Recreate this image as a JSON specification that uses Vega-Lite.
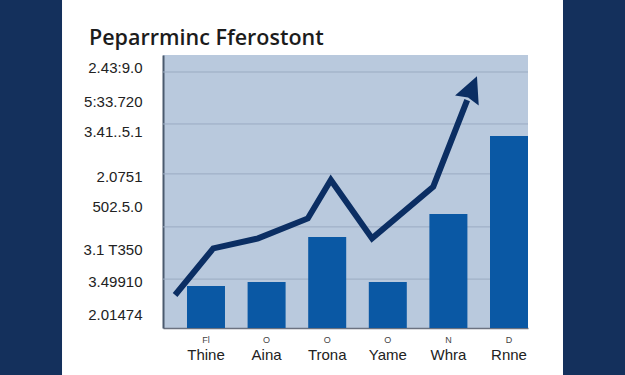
{
  "$schema": "https://vega.github.io/schema/vega-lite/v6.json",
  "width": 365,
  "height": 273,
  "autosize": {"type": "none"},
  "padding": {"left": 163, "top": 55, "right": 97, "bottom": 47},
  "background": "#ffffff",
  "config": {"view": {"fill": "#b9c9dd", "stroke": null}, "font": "Liberation Sans", "axis": {"labelOverlap": false}, "axisY": {"labelOverlap": false}},
  "title": {"text": "Peparrminc Fferostont", "anchor": "start", "frame": "group", "dx": -74, "offset": -50, "fontSize": 21.5, "fontWeight": 600, "font": "Open Sans", "color": "#1c1c1c"},
  "datasets": {
    "bars": [
      {"name": "Thine", "code": "Fl", "value": 16.4},
      {"name": "Aina", "code": "O", "value": 18.0},
      {"name": "Trona", "code": "O", "value": 35.5},
      {"name": "Yame", "code": "O", "value": 18.0},
      {"name": "Whra", "code": "N", "value": 44.5},
      {"name": "Rnne", "code": "D", "value": 75.0}
    ],
    "trend": [
      {"t": -0.51, "value": 12.9},
      {"t": 0.12, "value": 31.1},
      {"t": 0.86, "value": 35.0},
      {"t": 1.68, "value": 42.8},
      {"t": 2.06, "value": 57.8},
      {"t": 2.74, "value": 35.0},
      {"t": 3.75, "value": 55.2},
      {"t": 4.31, "value": 89.0}
    ],
    "tip": [{"t": 4.386, "value": 93.5}],
    "grid": [{"value": 19.1}, {"value": 39.5}, {"value": 60.2}, {"value": 79.7}, {"value": 100}]
  },
  "layer": [
    {
      "data": {"values": [{}]},
      "mark": {"type": "rect", "color": "#14305c"},
      "encoding": {
        "x": {"datum": -3.4, "type": "quantitative", "scale": {"domain": [-0.7096, 5.3135], "nice": false, "zero": false}, "axis": null},
        "x2": {"datum": -2.376},
        "y": {"datum": -18.36, "type": "quantitative", "scale": {"domain": [0, 106.64], "nice": false}, "title": null,
          "axis": {"values": [5.1, 18, 30.5, 47.3, 59, 76.6, 88.3, 101.6],
            "labelExpr": "datum.value == 101.6 ? '2.43:9.0' : datum.value == 88.3 ? '5:33.720' : datum.value == 76.6 ? '3.41..5.1' : datum.value == 59 ? '2.0751' : datum.value == 47.3 ? '502.5.0' : datum.value == 30.5 ? '3.1 T350' : datum.value == 18 ? '3.49910' : '2.01474'",
            "ticks": false, "grid": false, "domainColor": "#4b5a6e", "domainWidth": 2, "labelPadding": 21, "labelFontSize": 15, "labelColor": "#222222", "labelOverlap": false, "labelBound": false, "title": null}},
        "y2": {"datum": 128.125}
      }
    },
    {
      "data": {"values": [{}]},
      "mark": {"type": "rect", "color": "#14305c"},
      "encoding": {
        "x": {"datum": 5.891, "type": "quantitative", "scale": {"domain": [-0.7096, 5.3135], "nice": false, "zero": false}, "axis": null},
        "x2": {"datum": 6.915},
        "y": {"datum": -18.36, "type": "quantitative", "scale": {"domain": [0, 106.64], "nice": false}, "title": null,
          "axis": {"values": [5.1, 18, 30.5, 47.3, 59, 76.6, 88.3, 101.6],
            "labelExpr": "datum.value == 101.6 ? '2.43:9.0' : datum.value == 88.3 ? '5:33.720' : datum.value == 76.6 ? '3.41..5.1' : datum.value == 59 ? '2.0751' : datum.value == 47.3 ? '502.5.0' : datum.value == 30.5 ? '3.1 T350' : datum.value == 18 ? '3.49910' : '2.01474'",
            "ticks": false, "grid": false, "domainColor": "#4b5a6e", "domainWidth": 2, "labelPadding": 21, "labelFontSize": 15, "labelColor": "#222222", "labelOverlap": false, "labelBound": false, "title": null}},
        "y2": {"datum": 128.125}
      }
    },
    {
      "layer": [
        {
          "data": {"name": "grid"},
          "mark": {"type": "rule", "color": "#9aabc2", "strokeWidth": 1},
          "encoding": {
            "y": {"field": "value", "type": "quantitative", "scale": {"domain": [0, 106.64], "nice": false}, "title": null,
              "axis": {"values": [5.1, 18, 30.5, 47.3, 59, 76.6, 88.3, 101.6],
                "labelExpr": "datum.value == 101.6 ? '2.43:9.0' : datum.value == 88.3 ? '5:33.720' : datum.value == 76.6 ? '3.41..5.1' : datum.value == 59 ? '2.0751' : datum.value == 47.3 ? '502.5.0' : datum.value == 30.5 ? '3.1 T350' : datum.value == 18 ? '3.49910' : '2.01474'",
                "ticks": false, "grid": false, "domainColor": "#4b5a6e", "domainWidth": 2, "labelPadding": 21, "labelFontSize": 15, "labelColor": "#222222", "labelOverlap": false, "labelBound": false, "title": null}}
          }
        },
        {
          "data": {"name": "bars"},
          "mark": {"type": "bar", "color": "#0a58a4"},
          "encoding": {
            "x": {"field": "name", "type": "nominal", "sort": null, "scale": {"paddingInner": 0.373, "paddingOuter": 0.198, "align": 1},
              "axis": {"title": null, "ticks": false, "domainColor": "#6b7280", "domainWidth": 1.5, "labelPadding": 19, "labelFontSize": 15, "labelColor": "#222222", "labelAngle": 0}},
            "y": {"field": "value", "type": "quantitative", "scale": {"domain": [0, 106.64], "nice": false}, "title": null,
              "axis": {"values": [5.1, 18, 30.5, 47.3, 59, 76.6, 88.3, 101.6],
                "labelExpr": "datum.value == 101.6 ? '2.43:9.0' : datum.value == 88.3 ? '5:33.720' : datum.value == 76.6 ? '3.41..5.1' : datum.value == 59 ? '2.0751' : datum.value == 47.3 ? '502.5.0' : datum.value == 30.5 ? '3.1 T350' : datum.value == 18 ? '3.49910' : '2.01474'",
                "ticks": false, "grid": false, "domainColor": "#4b5a6e", "domainWidth": 2, "labelPadding": 21, "labelFontSize": 15, "labelColor": "#222222", "labelOverlap": false, "labelBound": false, "title": null}}
          }
        },
        {
          "data": {"name": "bars"},
          "mark": {"type": "text", "fontSize": 9, "color": "#444444", "baseline": "middle"},
          "encoding": {
            "x": {"field": "name", "type": "nominal", "sort": null},
            "y": {"datum": -4.7, "type": "quantitative", "scale": {"domain": [0, 106.64], "nice": false}, "title": null,
              "axis": {"values": [5.1, 18, 30.5, 47.3, 59, 76.6, 88.3, 101.6],
                "labelExpr": "datum.value == 101.6 ? '2.43:9.0' : datum.value == 88.3 ? '5:33.720' : datum.value == 76.6 ? '3.41..5.1' : datum.value == 59 ? '2.0751' : datum.value == 47.3 ? '502.5.0' : datum.value == 30.5 ? '3.1 T350' : datum.value == 18 ? '3.49910' : '2.01474'",
                "ticks": false, "grid": false, "domainColor": "#4b5a6e", "domainWidth": 2, "labelPadding": 21, "labelFontSize": 15, "labelColor": "#222222", "labelOverlap": false, "labelBound": false, "title": null}},
            "text": {"field": "code"}
          }
        }
      ]
    },
    {
      "layer": [
        {
          "data": {"name": "trend"},
          "mark": {"type": "line", "color": "#0b2e63", "strokeWidth": 6, "strokeJoin": "miter", "strokeCap": "butt"},
          "encoding": {
            "x": {"field": "t", "type": "quantitative", "scale": {"domain": [-0.7096, 5.3135], "nice": false, "zero": false}, "axis": null},
            "y": {"field": "value", "type": "quantitative", "scale": {"domain": [0, 106.64], "nice": false}, "title": null,
              "axis": {"values": [5.1, 18, 30.5, 47.3, 59, 76.6, 88.3, 101.6],
                "labelExpr": "datum.value == 101.6 ? '2.43:9.0' : datum.value == 88.3 ? '5:33.720' : datum.value == 76.6 ? '3.41..5.1' : datum.value == 59 ? '2.0751' : datum.value == 47.3 ? '502.5.0' : datum.value == 30.5 ? '3.1 T350' : datum.value == 18 ? '3.49910' : '2.01474'",
                "ticks": false, "grid": false, "domainColor": "#4b5a6e", "domainWidth": 2, "labelPadding": 21, "labelFontSize": 15, "labelColor": "#222222", "labelOverlap": false, "labelBound": false, "title": null}}
          }
        },
        {
          "data": {"name": "tip"},
          "mark": {"type": "point", "shape": "M0,-1L0.95,0.95L0,0.72L-0.95,0.95Z", "filled": true, "color": "#0b2e63", "opacity": 1, "size": 729, "angle": 22.5},
          "encoding": {
            "x": {"field": "t", "type": "quantitative"},
            "y": {"field": "value", "type": "quantitative", "scale": {"domain": [0, 106.64], "nice": false}, "title": null,
              "axis": {"values": [5.1, 18, 30.5, 47.3, 59, 76.6, 88.3, 101.6],
                "labelExpr": "datum.value == 101.6 ? '2.43:9.0' : datum.value == 88.3 ? '5:33.720' : datum.value == 76.6 ? '3.41..5.1' : datum.value == 59 ? '2.0751' : datum.value == 47.3 ? '502.5.0' : datum.value == 30.5 ? '3.1 T350' : datum.value == 18 ? '3.49910' : '2.01474'",
                "ticks": false, "grid": false, "domainColor": "#4b5a6e", "domainWidth": 2, "labelPadding": 21, "labelFontSize": 15, "labelColor": "#222222", "labelOverlap": false, "labelBound": false, "title": null}}
          }
        }
      ]
    }
  ],
  "resolve": {"scale": {"x": "independent"}}
}
